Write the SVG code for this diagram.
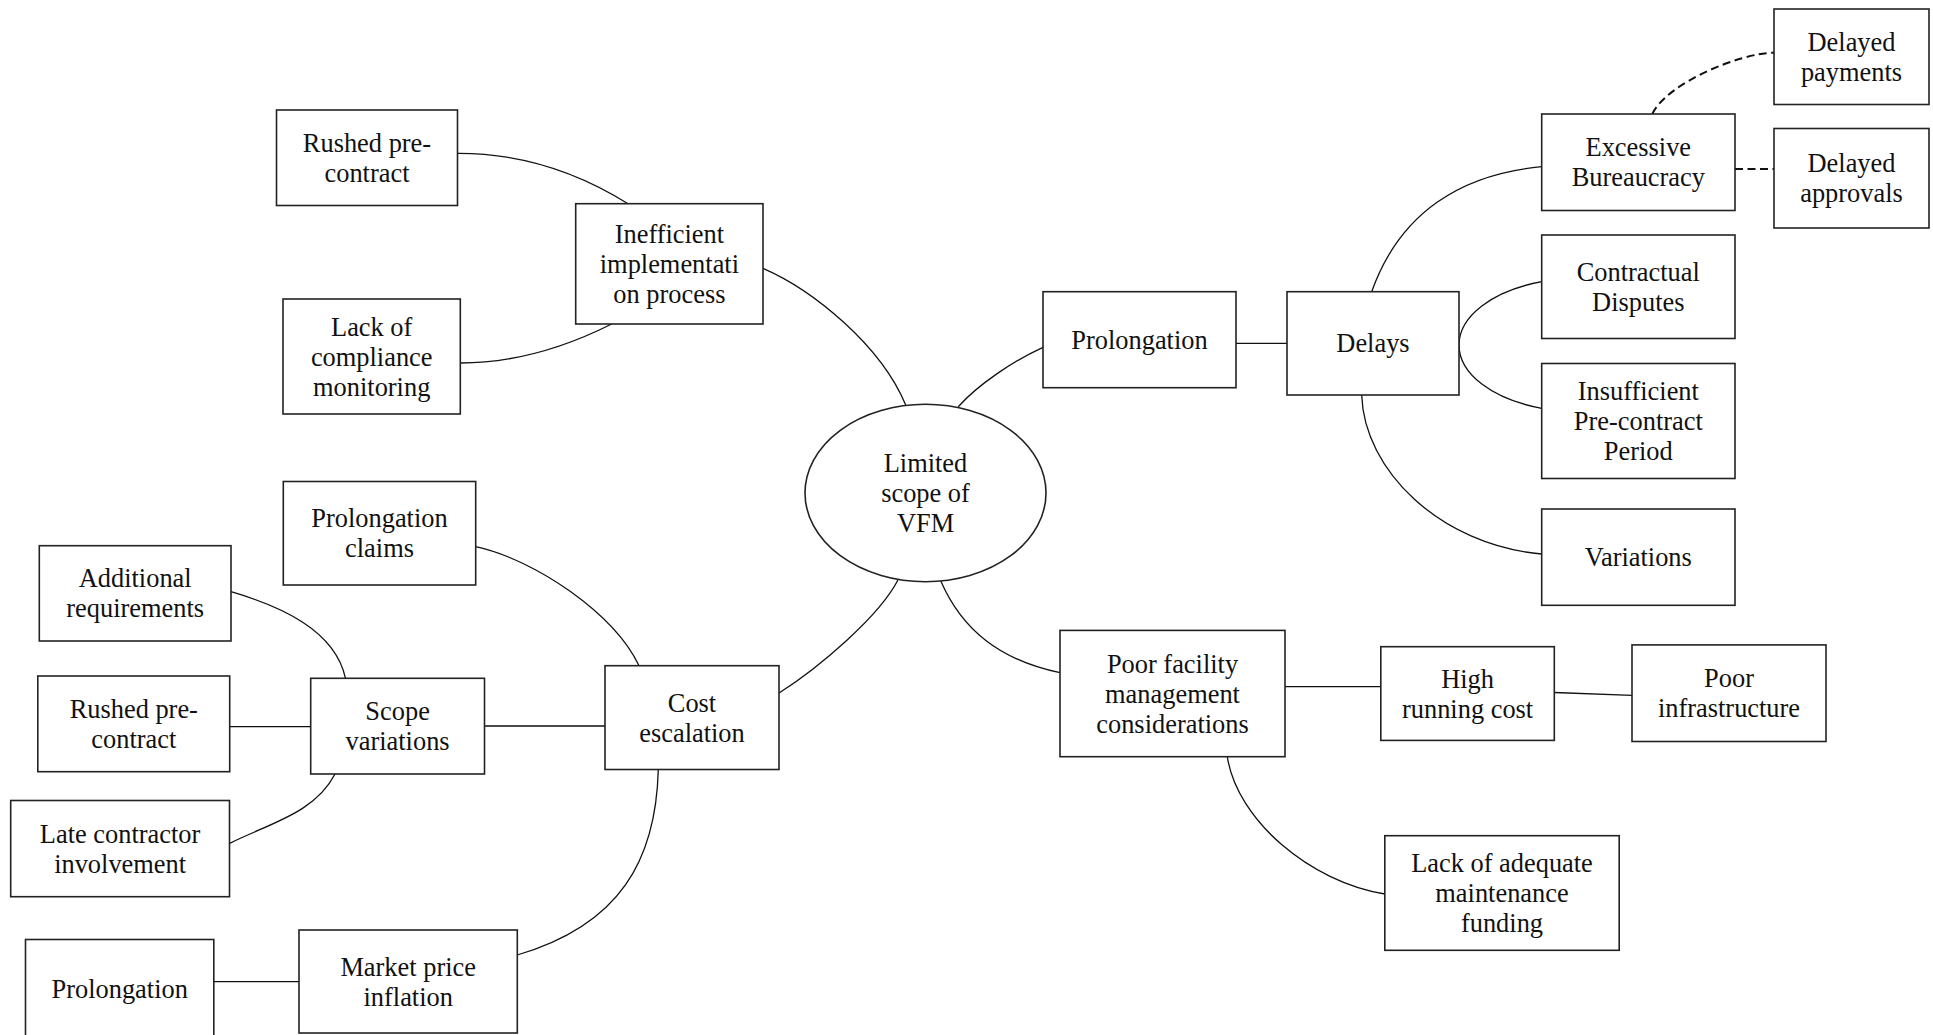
<svg xmlns="http://www.w3.org/2000/svg" width="1933" height="1035" viewBox="0 0 1933 1035">
<style>
.box{fill:#fff;stroke:#222;stroke-width:1.6}
.t{font-family:"Liberation Serif","Times New Roman",serif;font-size:26.4px;fill:#111;text-anchor:middle}
.c{fill:none;stroke:#111;stroke-width:1.3}
.d{fill:none;stroke:#111;stroke-width:2;stroke-dasharray:8 4.5}
</style>
<rect width="1933" height="1035" fill="#fff"/>
<g id="connectors">
<path class="c" d="M457.5,153.3 Q547,153 628,203.7"/>
<path class="c" d="M460.3,363 Q534,363 611.7,324"/>
<path class="c" d="M763,268.3 C813,290 880.7,345 905.7,405"/>
<path class="c" d="M958.3,406.7 C978,384.7 1013,361 1043,347.3"/>
<path class="c" d="M1236,343.3 L1287,343.3"/>
<path class="c" d="M1371.7,291.7 C1400,212 1462,174 1541.7,166.7"/>
<path class="c" d="M1541.7,281.7 A120 66.6 0 0 0 1541.7,408.3"/>
<path class="c" d="M1361.7,395 C1364,470 1440,545 1541.7,554"/>
<path class="d" d="M1652.3,114 C1667,83 1740,53 1774,52.7"/>
<path class="d" d="M1735,169 L1774,169"/>
<path class="c" d="M1285,686.7 L1380.8,686.7"/>
<path class="c" d="M1554.3,692.5 L1632,695.4"/>
<path class="c" d="M1227.3,756.7 C1237,820 1310,882 1384.8,894"/>
<path class="c" d="M940.7,580.7 C962,630 1000,660 1060,672.7"/>
<path class="c" d="M778.7,693.3 C818.7,667.7 880,616 898.3,579.3"/>
<path class="c" d="M475.7,546.7 C535.7,559.7 614,613.7 639,665.7"/>
<path class="c" d="M479.3,726 L605,726"/>
<path class="c" d="M658.3,769.5 C656,860 620,925 517.3,955"/>
<path class="c" d="M231,591.7 C280,606 335,630 345.5,678.3"/>
<path class="c" d="M229.7,726.7 L310.7,726.7"/>
<path class="c" d="M229.7,843.3 C269.7,823.3 315,813 335,774"/>
<path class="c" d="M210,981.7 L299,981.7"/>
</g>
<g id="vfm"><ellipse class="box" cx="925.5" cy="493" rx="120.5" ry="88.7"/>
<text class="t" x="925.5" y="472">Limited</text><text class="t" x="925.5" y="502">scope of</text><text class="t" x="925.5" y="532">VFM</text></g>
<g id="rushed-top"><rect class="box" x="276.5" y="110" width="181" height="95.5"/>
<text class="t" x="367" y="151.8">Rushed pre-</text><text class="t" x="367" y="181.8">contract</text></g>
<g id="inefficient"><rect class="box" x="575.7" y="203.7" width="187.3" height="120.3"/>
<text class="t" x="669.4" y="242.9">Inefficient</text><text class="t" x="669.4" y="272.9">implementati</text><text class="t" x="669.4" y="302.9">on process</text></g>
<g id="lack-compliance"><rect class="box" x="283" y="299" width="177.3" height="115"/>
<text class="t" x="371.7" y="335.5">Lack of</text><text class="t" x="371.7" y="365.5">compliance</text><text class="t" x="371.7" y="395.5">monitoring</text></g>
<g id="prolongation-right"><rect class="box" x="1043" y="291.7" width="193" height="96"/>
<text class="t" x="1139.5" y="348.7">Prolongation</text></g>
<g id="delays"><rect class="box" x="1287" y="291.7" width="172" height="103.3"/>
<text class="t" x="1373" y="352.3">Delays</text></g>
<g id="excessive"><rect class="box" x="1541.7" y="114" width="193.3" height="96.5"/>
<text class="t" x="1638.3" y="156.3">Excessive</text><text class="t" x="1638.3" y="186.3">Bureaucracy</text></g>
<g id="delayed-payments"><rect class="box" x="1774" y="9" width="155" height="95.5"/>
<text class="t" x="1851.5" y="50.8">Delayed</text><text class="t" x="1851.5" y="80.8">payments</text></g>
<g id="delayed-approvals"><rect class="box" x="1774" y="128.5" width="155" height="99.5"/>
<text class="t" x="1851.5" y="172.3">Delayed</text><text class="t" x="1851.5" y="202.3">approvals</text></g>
<g id="contractual"><rect class="box" x="1541.7" y="235" width="193.3" height="103.5"/>
<text class="t" x="1638.3" y="280.8">Contractual</text><text class="t" x="1638.3" y="310.8">Disputes</text></g>
<g id="insufficient"><rect class="box" x="1541.7" y="363.5" width="193.3" height="115"/>
<text class="t" x="1638.3" y="400">Insufficient</text><text class="t" x="1638.3" y="430">Pre-contract</text><text class="t" x="1638.3" y="460">Period</text></g>
<g id="variations"><rect class="box" x="1541.7" y="509" width="193.3" height="96.3"/>
<text class="t" x="1638.3" y="566.2">Variations</text></g>
<g id="poor-facility"><rect class="box" x="1060" y="630.4" width="225" height="126.3"/>
<text class="t" x="1172.5" y="672.6">Poor facility</text><text class="t" x="1172.5" y="702.6">management</text><text class="t" x="1172.5" y="732.6">considerations</text></g>
<g id="high-running"><rect class="box" x="1380.8" y="646.7" width="173.5" height="93.7"/>
<text class="t" x="1467.6" y="687.6">High</text><text class="t" x="1467.6" y="717.6">running cost</text></g>
<g id="poor-infra"><rect class="box" x="1632" y="644.9" width="194" height="96.6"/>
<text class="t" x="1729" y="687.2">Poor</text><text class="t" x="1729" y="717.2">infrastructure</text></g>
<g id="lack-funding"><rect class="box" x="1384.8" y="835.7" width="234.4" height="114.6"/>
<text class="t" x="1502" y="872">Lack of adequate</text><text class="t" x="1502" y="902">maintenance</text><text class="t" x="1502" y="932">funding</text></g>
<g id="prolongation-claims"><rect class="box" x="283.3" y="481.5" width="192.4" height="103.5"/>
<text class="t" x="379.5" y="527.3">Prolongation</text><text class="t" x="379.5" y="557.3">claims</text></g>
<g id="additional"><rect class="box" x="39.3" y="545.7" width="191.7" height="95.3"/>
<text class="t" x="135.2" y="587.4">Additional</text><text class="t" x="135.2" y="617.4">requirements</text></g>
<g id="rushed-left"><rect class="box" x="37.8" y="676" width="191.9" height="95.7"/>
<text class="t" x="133.8" y="717.9">Rushed pre-</text><text class="t" x="133.8" y="747.9">contract</text></g>
<g id="scope"><rect class="box" x="310.7" y="678.3" width="173.8" height="95.7"/>
<text class="t" x="397.6" y="720.2">Scope</text><text class="t" x="397.6" y="750.2">variations</text></g>
<g id="late-contractor"><rect class="box" x="10.7" y="800.5" width="218.8" height="96.2"/>
<text class="t" x="120.1" y="842.6">Late contractor</text><text class="t" x="120.1" y="872.6">involvement</text></g>
<g id="cost"><rect class="box" x="605" y="665.7" width="174" height="103.8"/>
<text class="t" x="692" y="711.6">Cost</text><text class="t" x="692" y="741.6">escalation</text></g>
<g id="prolongation-bottom"><rect class="box" x="25.5" y="939.5" width="188.3" height="105"/>
<text class="t" x="119.7" y="998">Prolongation</text></g>
<g id="market"><rect class="box" x="299" y="930" width="218.3" height="103"/>
<text class="t" x="408.2" y="975.5">Market price</text><text class="t" x="408.2" y="1005.5">inflation</text></g>
</svg>
